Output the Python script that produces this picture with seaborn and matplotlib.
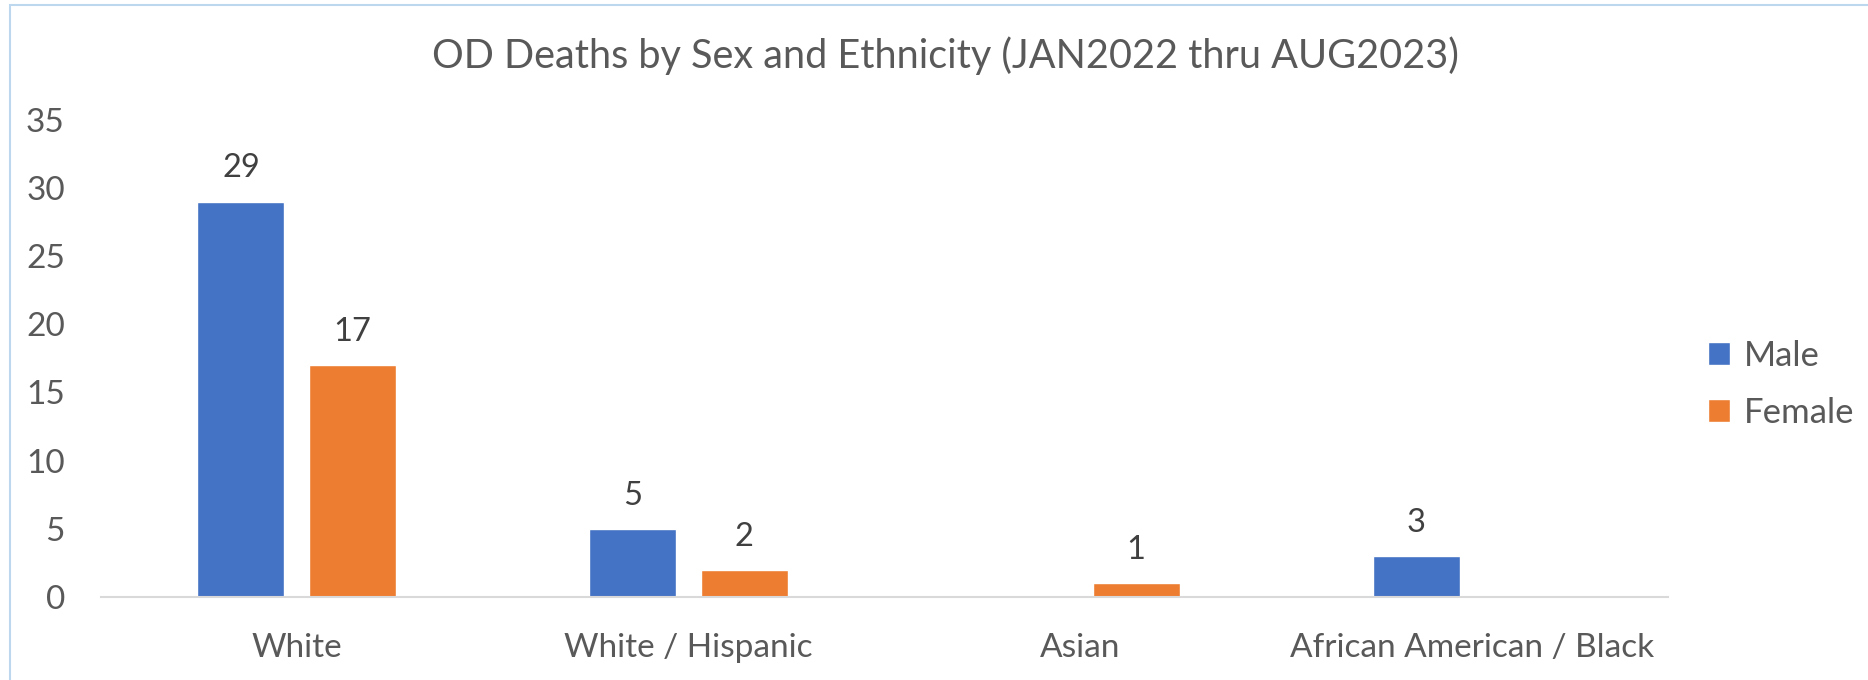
import matplotlib
matplotlib.use('Agg')
import matplotlib.pyplot as plt
import seaborn as sns
import pandas as pd
from matplotlib.patches import Rectangle

# data
ethnicity = ['White', 'White / Hispanic', 'Asian', 'African American / Black']
male = [29, 5, 0, 3]
female = [17, 2, 1, 0]
y_ticks = [0, 5, 10, 15, 20, 25, 30, 35]

df = pd.DataFrame({
    'Ethnicity': ethnicity * 2,
    'Sex': ['Male'] * len(ethnicity) + ['Female'] * len(ethnicity),
    'Deaths': male + female,
})

sns.set_style('white')
plt.rcParams['font.family'] = ['Lato', 'DejaVu Sans']

fig = plt.figure(figsize=(18.68, 6.8), dpi=100)
ax = fig.add_axes([0.054, 0.122, 0.839, 0.702])

sns.barplot(data=df, x='Ethnicity', y='Deaths', hue='Sex', order=ethnicity,
            hue_order=['Male', 'Female'], palette=['#4472C4', '#ED7D31'],
            width=0.57, gap=0.22, dodge=True, saturation=1, ax=ax)

# data labels, Excel leaves out the zeros
for cont in ax.containers:
    for bar in cont:
        h = bar.get_height()
        if h > 0:
            ax.annotate(f'{int(h)}', (bar.get_x() + bar.get_width() / 2, h),
                        xytext=(0, 13), textcoords='offset points',
                        ha='center', va='bottom', fontsize=23.5, color='#404040')

ax.set_ylim(0, 35)
ax.set_yticks(y_ticks)
ax.set_xlim(-0.5, len(ethnicity) - 0.5)
ax.set_xlabel('')
ax.set_ylabel('')
ax.tick_params(axis='both', length=0, labelsize=24, labelcolor='#595959')
ax.tick_params(axis='x', pad=26)
ax.tick_params(axis='y', pad=26)
for s in ['top', 'right', 'left']:
    ax.spines[s].set_visible(False)
ax.spines['bottom'].set_color('#D9D9D9')
ax.spines['bottom'].set_linewidth(1.5)

handles, labels = ax.get_legend_handles_labels()
ax.legend(handles, labels, loc='center left', bbox_to_anchor=(0.9145, 0.435),
          bbox_transform=fig.transFigure, frameon=False, fontsize=25,
          labelcolor='#595959', handlelength=0.62, handleheight=0.62,
          handletextpad=0.4, labelspacing=0.72, borderpad=0, borderaxespad=0)

fig.suptitle('OD Deaths by Sex and Ethnicity (JAN2022 thru AUG2023)',
             x=0.506, y=0.918, va='center', fontsize=28.5, color='#595959')

# light blue chart frame
fig.patches.append(Rectangle((0.0055, -0.05), 1.2, 1.042, transform=fig.transFigure,
                             fill=False, edgecolor='#BDD7EE', linewidth=1.5))

fig.savefig('out.png', dpi=100)
